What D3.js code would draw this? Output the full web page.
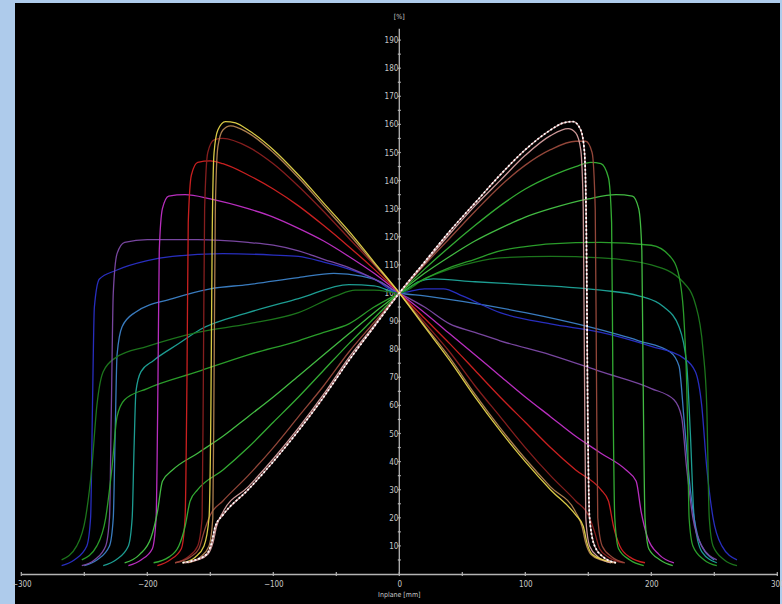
<!DOCTYPE html>
<html><head><meta charset="utf-8">
<script src="https://cdn.jsdelivr.net/npm/d3@7"></script>
<style>
html,body{margin:0;padding:0;background:#aecbeb;}
svg{display:block;}
</style></head>
<body>
<script>
// ---- data (mm, %) ----
const xTickValues = [-300,-200,-100,0,100,200,300];
const yTickValues = [10,20,30,40,50,60,70,80,90,100,110,120,130,140,150,160,170,180,190];
const xLabel = "Inplane [mm]";
const yLabel = "[%]";

const seriesNames = ["R8","L8","L7","R7","L6","R6","L5","R5","L4","R4","L3","R3","L2","R2","L1","R1"];
const seriesColors = ["#1fa59a","#3c82c8","#2a30c8","#1e7a1e","#7e4aa8","#2ca42c","#c230c8","#46c446","#d42222","#36b436","#8c2020","#9a4a3c","#b48452","#d8a0a0","#e4d44a","#f4f4f4"];

const L1 = [[-172,4],[-162,6],[-155,10],[-151,20],[-149.5,60],[-148.5,120],[-147,150],[-144,158],[-138,161],[-130,160.5],[-120,158],[-100,151],[-80,142],[-60,132],[-40,122],[-20,111],[0,100],[20,88],[40,76],[60,63],[80,51],[100,40],[120,30],[140,21],[146,17],[149,11],[153,7],[162,5],[172,4]];
const R1 = [[-172,4],[-162,5],[-153,7],[-149,11],[-146,17],[-140,21],[-120,30],[-100,40],[-80,51],[-60,63],[-40,76],[-20,88],[0,100],[20,111],[40,122],[60,132],[80,142],[100,151],[120,158],[130,160.5],[138,161],[144,158],[147,150],[148.5,120],[149.5,60],[151,20],[155,10],[162,6],[172,4]];
const L2 = [[-168,4],[-158,6],[-151,10],[-148,20],[-147,70],[-146,130],[-144,152],[-140,158],[-134,159.5],[-120,157],[-100,150],[-80,141],[-60,131],[-40,121],[-20,110.5],[0,100],[20,88.5],[40,77],[60,64],[80,52],[100,41],[120,31],[140,22],[145,17],[148,11],[152,7],[160,5],[170,4]];
const R2 = [[-170,4],[-160,5],[-152,7],[-148,11],[-145,17],[-140,22],[-120,31],[-100,41],[-80,52],[-60,64],[-40,77],[-20,88.5],[0,100],[20,110.5],[40,121],[60,131],[80,140],[100,149],[120,156],[134,158.5],[140,157],[144,151],[146,130],[147,70],[148,20],[151,10],[158,6],[168,4]];
const L3 = [[-178,4],[-168,6],[-160,10],[-156.5,20],[-155.5,70],[-154.5,130],[-152,150],[-147,154.5],[-140,155],[-120,152],[-100,146],[-80,138],[-60,129],[-40,119.5],[-20,110],[0,100],[20,89.5],[40,79],[60,67],[80,56],[100,45],[120,35],[140,26],[150,21],[155,15],[159,9],[166,6],[178,4]];
const R3 = [[-178,4],[-166,6],[-159,9],[-155,15],[-150,21],[-140,26],[-120,35],[-100,45],[-80,56],[-60,67],[-40,79],[-20,89.5],[0,100],[20,110],[40,119.5],[60,129],[80,138],[100,145.5],[120,151],[140,154],[148,154],[153,150],[155.5,130],[156.5,70],[157.5,20],[161,10],[169,6],[179,4]];
const L4 = [[-192,3],[-182,5],[-173,9],[-170,20],[-168.5,70],[-167.5,125],[-165,142],[-160,146.5],[-150,147],[-140,146],[-120,142],[-100,137],[-80,131],[-60,124],[-40,116.5],[-20,108.5],[0,100],[20,91],[40,82],[60,72.5],[80,63],[100,54],[120,45],[140,37],[160,30],[166,26],[170,17],[175,10],[183,6],[195,4]];
const R4 = [[-195,4],[-183,6],[-175,10],[-170,17],[-166,26],[-160,30],[-140,37],[-120,45],[-100,54],[-80,63],[-60,72.5],[-40,82],[-20,91],[0,100],[20,108.5],[40,116.5],[60,124],[80,131],[100,137],[120,141.5],[140,145],[152,146.5],[160,146],[166,141],[168.5,125],[169.5,70],[171,20],[174,9],[183,5],[194,3]];
const L5 = [[-215,3],[-205,5],[-196,9],[-193,20],[-191.5,70],[-190.5,115],[-188,130],[-183,134.5],[-170,135],[-150,133.5],[-120,130],[-100,127],[-80,123],[-60,118.5],[-40,113],[-20,107],[0,100],[20,93],[40,85.5],[60,78],[80,70.5],[100,63],[120,56],[140,49],[160,43],[180,37],[188,33],[192,22],[197,13],[206,7],[218,4]];
const R5 = [[-218,4],[-206,7],[-197,13],[-192,22],[-188,33],[-180,37],[-160,43],[-140,49],[-120,56],[-100,63],[-80,70.5],[-60,78],[-40,85.5],[-20,93],[0,100],[20,107],[40,113],[60,118.5],[80,123],[100,127],[120,130],[150,133.5],[172,135],[185,134.5],[190,130],[192.5,115],[193.5,70],[195,20],[198,9],[207,5],[217,3]];
const L6 = [[-252,3],[-242,5],[-233,10],[-230,20],[-228.5,60],[-227,100],[-224,114],[-218,118],[-200,119],[-160,119],[-120,118],[-100,117],[-80,115],[-60,112],[-40,109],[-20,105],[0,100],[20,95],[40,89],[60,86],[80,83],[120,78],[160,72],[200,66],[218,62],[224,56],[228,38],[233,20],[240,10],[252,5]];
const R6 = [[-252,5],[-240,10],[-233,20],[-228,38],[-224,56],[-218,62],[-200,66],[-160,72],[-120,78],[-80,83],[-60,86],[-40,89],[-20,95],[0,100],[20,105],[40,109],[60,112],[80,115],[100,116.5],[120,117.5],[160,118],[200,117],[215,113],[222,106],[226,90],[228.5,60],[230,20],[233,10],[242,5],[252,3]];
const L7 = [[-268,3],[-258,5],[-248,10],[-245,20],[-243.5,60],[-242,95],[-238,105],[-225,108],[-200,111.5],[-180,113],[-140,114],[-100,113.5],[-80,113],[-60,111],[-40,108.5],[-20,105],[0,100],[20,101.5],[35,101.5],[50,99],[80,93],[120,89],[160,86],[200,81],[225,77],[235,72],[240,60],[244,38],[249,20],[256,10],[268,5]];
const R7 = [[-268,5],[-256,10],[-249,20],[-244,38],[-240,60],[-235,72],[-225,77],[-200,81],[-160,86],[-120,89],[-80,93],[-50,99],[-35,101],[-20,101],[0,100],[20,105],[40,108.5],[60,111],[80,112.5],[120,113],[160,112.5],[200,110],[225,104],[235,96],[241,80],[244,60],[246,20],[249,10],[258,5],[268,3]];
const L8 = [[-250,3],[-240,5],[-230,10],[-227,20],[-225.5,50],[-224,78],[-220,88],[-210,93],[-180,98],[-150,101.5],[-120,103],[-80,105.5],[-52,107],[-30,106],[-15,104],[0,100],[20,99],[50,97],[100,93],[150,88],[190,83],[215,79],[222,74],[226,55],[231,30],[238,12],[250,5]];
const R8 = [[-235,3],[-225,5],[-215,10],[-212,20],[-210.5,45],[-209,65],[-205,72],[-195,76],[-175,82],[-158,87],[-120,93],[-80,98],[-40,103],[-20,102.5],[0,100],[15,104],[27,105],[60,104],[100,103],[160,101],[190,99],[210,95],[222,88],[228,75],[231,50],[234,20],[240,8],[252,4]];

const seriesData = {L1,R1,L2,R2,L3,R3,L4,R4,L5,R5,L6,R6,L7,R7,L8,R8};

// ---- layout ----
const W = 782, H = 604;
const svg = d3.select("body").append("svg").attr("width", W).attr("height", H);
svg.append("rect").attr("x",15).attr("y",3).attr("width",765).attr("height",601).attr("fill","#000");

const x = d3.scaleLinear().domain([-300,300]).range([21.3,777.3]);
const y = d3.scaleLinear().domain([0,190]).range([574,40.1]);

const axisColor = "#b4b4b4";
const fontFam = "'Liberation Sans Narrow','DejaVu Sans Condensed',sans-serif";

// x axis
const xAxis = d3.axisBottom(x).tickValues(xTickValues).tickSize(0).tickPadding(7).tickFormat(d3.format("d"));
const gx = svg.append("g").attr("transform",`translate(0,${y(0)})`).call(xAxis);
gx.select(".domain").attr("stroke",axisColor).attr("stroke-width",1.6);
gx.selectAll("text").attr("fill","#c8c8c8").attr("font-size",8).attr("font-family",fontFam);
const xMinor = d3.range(-300,301,50);
gx.selectAll(".mt").data(xMinor).enter().append("line").attr("class","mt")
  .attr("x1",d=>x(d)).attr("x2",d=>x(d)).attr("y1",-2).attr("y2",2).attr("stroke",axisColor).attr("stroke-width",1.2);

// y axis
const yAxis = d3.axisLeft(y).tickValues(yTickValues).tickSize(0).tickPadding(1).tickFormat(d3.format("d"));
const gy = svg.append("g").attr("transform",`translate(${x(0)},0)`).call(yAxis);
gy.select(".domain").remove();
gy.append("line").attr("x1",0).attr("x2",0).attr("y1",y(0)).attr("y2",y(194)).attr("stroke",axisColor).attr("stroke-width",1.3);
gy.selectAll("text").attr("fill","#c8c8c8").attr("font-size",8).attr("font-family",fontFam);
const yMinor = d3.range(5,191,5);
gy.selectAll(".mt").data(yMinor).enter().append("line").attr("class","mt")
  .attr("x1",-1.5).attr("x2",1.5).attr("y1",d=>y(d)).attr("y2",d=>y(d)).attr("stroke",axisColor).attr("stroke-width",1.2);

svg.append("text").attr("x",x(0)).attr("y",19).attr("text-anchor","middle").attr("fill","#c8c8c8")
  .attr("font-size",7).attr("font-family",fontFam).text(yLabel);
svg.append("text").attr("x",x(0)).attr("y",597).attr("text-anchor","middle").attr("fill","#c8c8c8")
  .attr("font-size",7).attr("font-family",fontFam).text(xLabel);

// curves
const line = d3.line().x(d=>x(d[0])).y(d=>y(d[1])).curve(d3.curveMonotoneX);
const gl = svg.append("g");
seriesNames.forEach((n,i)=>{
  if(n==="R1"){
    gl.append("path").attr("d",line(seriesData[n])).attr("fill","none").attr("stroke","#c89090").attr("stroke-width",1.4);
    gl.append("path").attr("d",line(seriesData[n])).attr("fill","none").attr("stroke","#ffffff").attr("stroke-width",1.7).attr("stroke-dasharray","2,2");
  } else {
    gl.append("path").attr("d",line(seriesData[n])).attr("fill","none").attr("stroke",seriesColors[i]).attr("stroke-width",1.3).attr("opacity",0.95);
  }
});
</script>
</body></html>
